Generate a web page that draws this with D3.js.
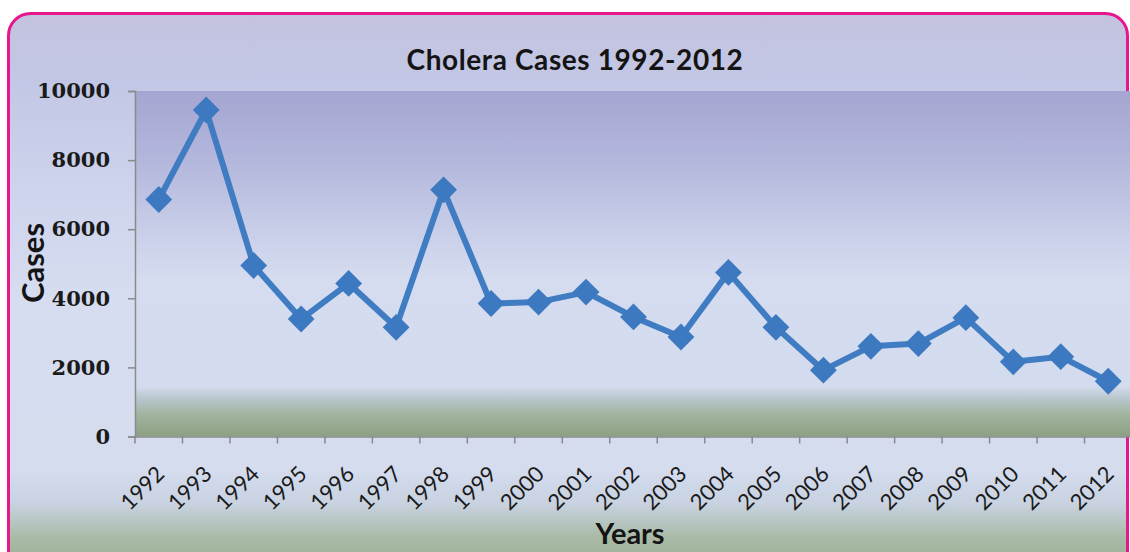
<!DOCTYPE html>
<html><head><meta charset="utf-8">
<script src="https://cdn.jsdelivr.net/npm/d3@7"></script>
<style>html,body{margin:0;padding:0;background:#fff;overflow:hidden}</style>
</head><body>
<svg id="c" width="1130" height="552"></svg>
<script>
const years = ["1992","1993","1994","1995","1996","1997","1998","1999","2000","2001","2002","2003","2004","2005","2006","2007","2008","2009","2010","2011","2012"];
const cases = [6860,9450,4950,3400,4430,3160,7140,3850,3890,4180,3460,2880,4750,3160,1920,2610,2690,3440,2160,2310,1600];
const yTicks = [0,2000,4000,6000,8000,10000];
const title = "Cholera Cases 1992-2012";
const xTitle = "Years";
const yTitle = "Cases";

const svg = d3.select("#c");
const defs = svg.append("defs");
const og = defs.append("linearGradient").attr("id","og").attr("x1",0).attr("y1",0).attr("x2",0).attr("y2",1);
[[0,"#c4c3df"],[0.12,"#c2c7e5"],[0.3,"#cdd3ec"],[0.5,"#d6ddf0"],[0.8,"#d4dcee"],[0.86,"#c8d2e0"],[0.92,"#a9baa6"],[1,"#93a98b"]]
  .forEach(([o,c])=>og.append("stop").attr("offset",o).attr("stop-color",c));
const pg = defs.append("linearGradient").attr("id","pg").attr("x1",0).attr("y1",0).attr("x2",0).attr("y2",1);
[[0,"#a5a5d1"],[0.2,"#b3b7dc"],[0.45,"#cdd3eb"],[0.55,"#d5dcef"],[0.855,"#d3dbee"],[0.895,"#b5c4c8"],[0.94,"#a0b29c"],[1,"#8da083"]]
  .forEach(([o,c])=>pg.append("stop").attr("offset",o).attr("stop-color",c));

// outer frame
svg.append("rect").attr("x",8.5).attr("y",13.5).attr("width",1119).attr("height",570)
  .attr("rx",22).attr("fill","url(#og)").attr("stroke","#e8168c").attr("stroke-width",3);

const L=135, R=1132, T=91, B=436.5;
const x = d3.scaleBand().domain(years).range([L,R]).padding(0);
const y = d3.scaleLinear().domain([0,10000]).range([B,T]);

svg.append("rect").attr("x",L).attr("y",T).attr("width",R-L).attr("height",B-T).attr("fill","url(#pg)");

// y axis
const ya = svg.append("g").attr("transform",`translate(${L},0)`)
  .call(d3.axisLeft(y).tickValues(yTicks).tickSize(7).tickPadding(18).tickFormat(d3.format("d")));
ya.select(".domain").attr("stroke","#8a8a8a").attr("stroke-width",1.5);
ya.selectAll(".tick line").attr("stroke","#8a8a8a").attr("stroke-width",1.5);
ya.selectAll("text").attr("font-family","'DejaVu Serif',serif").attr("font-weight","bold")
  .attr("font-size",21).attr("fill","#1a1a1a");

// x axis
const xa = svg.append("g").attr("transform",`translate(0,${B})`)
  .call(d3.axisBottom(x).tickSize(0).tickFormat(""));
xa.select(".domain").attr("stroke","#8a8a8a").attr("stroke-width",1.5);
xa.selectAll(".tick").remove();
const bounds = years.map(v=>x(v)).concat([R]);
svg.append("g").selectAll("line").data(bounds).join("line")
  .attr("x1",d=>d).attr("x2",d=>d).attr("y1",B).attr("y2",B+7)
  .attr("stroke","#8a8a8a").attr("stroke-width",1.5);
svg.append("g").selectAll("text").data(years).join("text")
  .attr("transform",d=>`translate(${x(d)+x.bandwidth()/2+1},${B+33}) rotate(-45)`)
  .attr("text-anchor","end").attr("dominant-baseline","central")
  .attr("font-family","Lato,'Open Sans',sans-serif").attr("font-size",22).attr("fill","#1a1a1a")
  .text(d=>d);

// line
const cx = (d,i)=>x(years[i])+x.bandwidth()/2;
svg.append("path").datum(cases)
  .attr("d",d3.line().x(cx).y(d=>y(d)))
  .attr("fill","none").attr("stroke","#3f7cc2").attr("stroke-width",6).attr("stroke-linejoin","round");
svg.append("g").selectAll("path").data(cases).join("path")
  .attr("d",d3.symbol().type(d3.symbolSquare).size(360))
  .attr("transform",(d,i)=>`translate(${cx(d,i)},${y(d)}) rotate(45)`)
  .attr("fill","#3d79c0");

// titles
svg.append("text").attr("x",575).attr("y",70).attr("text-anchor","middle")
  .attr("font-family","Lato,'Open Sans',sans-serif").attr("font-weight","bold").attr("font-size",28)
  .attr("letter-spacing",0.6).attr("fill","#141414").text(title);
svg.append("text").attr("x",630).attr("y",544).attr("text-anchor","middle")
  .attr("font-family","Lato,'Open Sans',sans-serif").attr("font-weight","bold").attr("font-size",29)
  .attr("fill","#141414").text(xTitle);
svg.append("text").attr("transform","translate(44,263) rotate(-90)").attr("text-anchor","middle")
  .attr("font-family","Lato,'Open Sans',sans-serif").attr("font-weight","bold").attr("font-size",31)
  .attr("fill","#141414").text(yTitle);
</script>
</body></html>
